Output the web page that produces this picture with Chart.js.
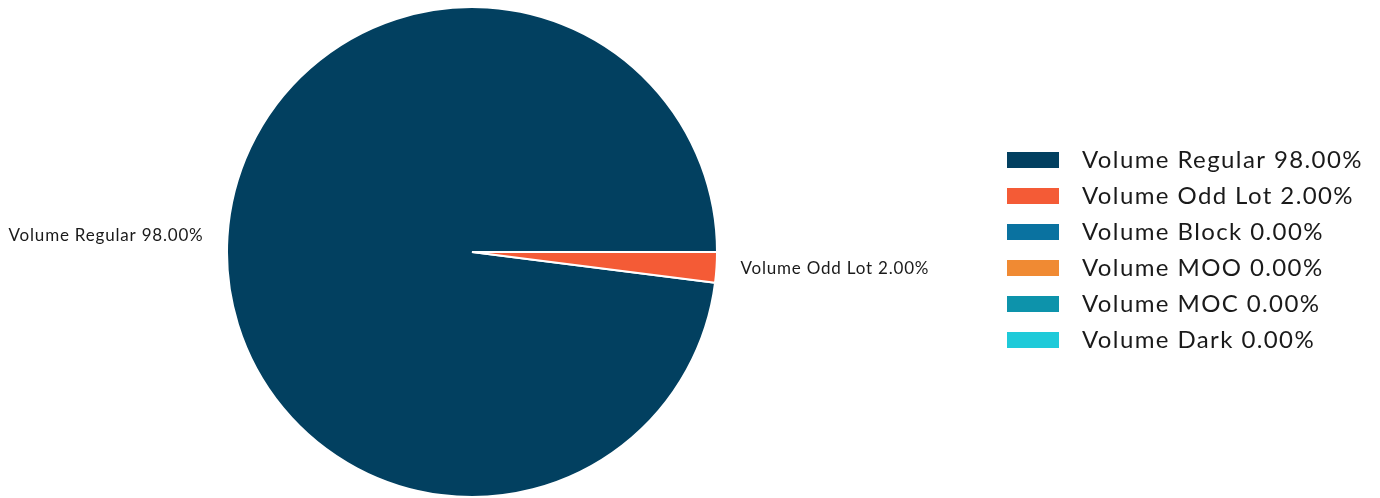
<!doctype html>
<html>

<head>
    <meta charset="utf-8" />
    <title>Volume breakdown</title>
    <script src="https://cdn.jsdelivr.net/npm/chart.js@4.4.1/dist/chart.umd.min.js"></script>
    <style>
        html, body { margin: 0; padding: 0; background: #fff; }
        #wrap { width: 1380px; height: 498px; }
    </style>
</head>

<body>
    <div id="wrap"><canvas id="myChart"></canvas></div>
    <script>
        var labels = ["Volume Regular", "Volume Odd Lot", "Volume Block", "Volume MOO", "Volume MOC", "Volume Dark"];
        var values = [98, 2, 0, 0, 0, 0];
        var colors = ["#024060", "#F45B36", "#0A72A0", "#F08A33", "#0D93AB", "#1ECAD9"];

        function pct(v) { return v.toFixed(2) + "%"; }

        // slice labels outside the pie, only for non-zero slices
        var sliceLabels = {
            id: "sliceLabels",
            afterDatasetsDraw: function (chart) {
                var ctx = chart.ctx;
                var meta = chart.getDatasetMeta(0);
                ctx.save();
                ctx.font = "17px Lato";
                ctx.letterSpacing = "0.8px";
                ctx.fillStyle = "#1a1a1a";
                ctx.textBaseline = "middle";
                meta.data.forEach(function (arc, i) {
                    if (!values[i]) return;
                    var p = arc.getProps(["x", "y", "startAngle", "endAngle", "outerRadius"], true);
                    var mid = (p.startAngle + p.endAngle) / 2;
                    var r = p.outerRadius + 24;
                    var cx = Math.cos(mid), cy = Math.sin(mid);
                    ctx.textAlign = cx >= 0 ? "left" : "right";
                    ctx.fillText(labels[i] + " " + pct(values[i]), p.x + cx * r, p.y + cy * r);
                });
                ctx.restore();
            }
        };

        // legend on the right
        var sideLegend = {
            id: "sideLegend",
            afterDraw: function (chart) {
                var ctx = chart.ctx;
                var x0 = 1007, y0 = 152, step = 36;
                ctx.save();
                ctx.font = "24px Lato";
                ctx.letterSpacing = "1.4px";
                ctx.textBaseline = "middle";
                ctx.textAlign = "left";
                labels.forEach(function (name, i) {
                    var y = y0 + i * step;
                    ctx.fillStyle = colors[i];
                    ctx.fillRect(x0, y, 52, 16);
                    ctx.fillStyle = "#1a1a1a";
                    ctx.fillText(name + " " + pct(values[i]), x0 + 75, y + 8);
                });
                ctx.restore();
            }
        };

        var chart = new Chart(document.getElementById("myChart"), {
            type: "pie",
            data: {
                labels: labels,
                datasets: [{
                    data: values,
                    backgroundColor: colors,
                    borderColor: "#fff",
                    borderWidth: 2
                }]
            },
            options: {
                responsive: true,
                maintainAspectRatio: false,
                animation: false,
                rotation: 97.2,
                layout: { padding: { top: 6, bottom: 0, left: 0, right: 436 } },
                plugins: {
                    legend: { display: false },
                    tooltip: { enabled: false }
                }
            },
            plugins: [sliceLabels, sideLegend]
        });
    </script>
</body>

</html>
